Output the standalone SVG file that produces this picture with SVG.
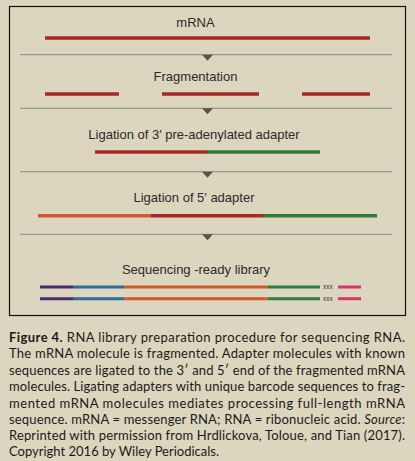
<svg xmlns="http://www.w3.org/2000/svg" width="415" height="461" viewBox="0 0 415 461">
<defs>
<style>
.lbl{font-family:"Liberation Sans",Arial,sans-serif;font-size:13px;fill:#2a2a2a;text-anchor:middle}
.seg{stroke-width:3.5;fill:none}
.lib{stroke-width:3;fill:none}
.red{stroke:#a52a26}
.grn{stroke:#2f7d3c}
.org{stroke:#d05a2c}
.pur{stroke:#4b2a6e}
.blu{stroke:#2f6b98}
.pnk{stroke:#d0386a}
.sep{stroke:#9d998a;stroke-width:1.3}
.tri{fill:#555550}
.xxx{font-family:"Liberation Sans",Arial,sans-serif;font-size:6.5px;fill:#333}
.cap{font-family:Lato,"Open Sans",sans-serif;font-size:13px;fill:#1a1a1a}
</style>
</defs>
<rect width="415" height="461" fill="#ddd6be"/>
<rect x="9.5" y="6.5" width="396" height="309" fill="#ddd6be" stroke="#111" stroke-width="1.2"/>

<g id="connectors">
<line class="sep" x1="20" y1="54.7" x2="392" y2="54.7"/>
<polygon class="tri" points="202,54.7 213,54.7 207.5,60.7"/>
<line class="sep" x1="20" y1="108.3" x2="392" y2="108.3"/>
<polygon class="tri" points="202,108.3 213,108.3 207.5,114.3"/>
<line class="sep" x1="20" y1="171.7" x2="392" y2="171.7"/>
<polygon class="tri" points="202,171.7 213,171.7 207.5,177.7"/>
<line class="sep" x1="20" y1="234.3" x2="392" y2="234.3"/>
<polygon class="tri" points="202,234.3 213,234.3 207.5,240.3"/>
</g>

<g id="mrna">
<text class="lbl" x="195.5" y="26.5">mRNA</text>
<line class="seg red" x1="45" y1="38" x2="370" y2="38"/>
</g>

<g id="fragmentation">
<text class="lbl" x="195.5" y="81">Fragmentation</text>
<line class="seg red" x1="45" y1="94" x2="119" y2="94"/>
<line class="seg red" x1="162" y1="94" x2="259" y2="94"/>
<line class="seg red" x1="302" y1="94" x2="370" y2="94"/>
</g>

<g id="ligation3">
<text class="lbl" x="194" y="138.5">Ligation of 3′ pre-adenylated adapter</text>
<line class="seg red" x1="95" y1="152" x2="207" y2="152"/>
<line class="seg grn" x1="207" y1="152" x2="320" y2="152"/>
</g>

<g id="ligation5">
<text class="lbl" x="194" y="202">Ligation of 5′ adapter</text>
<line class="seg org" x1="38" y1="215.7" x2="151" y2="215.7"/>
<line class="seg red" x1="151" y1="215.7" x2="263" y2="215.7"/>
<line class="seg grn" x1="263" y1="215.7" x2="377" y2="215.7"/>
</g>

<g id="library">
<text class="lbl" x="196" y="273.5">Sequencing -ready library</text>
<line class="lib pur" x1="40" y1="287" x2="73" y2="287"/>
<line class="lib blu" x1="73" y1="287" x2="124" y2="287"/>
<line class="lib org" x1="124" y1="287" x2="268" y2="287"/>
<line class="lib grn" x1="268" y1="287" x2="320" y2="287"/>
<text class="xxx" x="323" y="289.3">xxx</text>
<line class="lib pnk" x1="338" y1="287" x2="361" y2="287"/>
<line class="lib pur" x1="40" y1="298.7" x2="73" y2="298.7"/>
<line class="lib blu" x1="73" y1="298.7" x2="124" y2="298.7"/>
<line class="lib org" x1="124" y1="298.7" x2="268" y2="298.7"/>
<line class="lib grn" x1="268" y1="298.7" x2="320" y2="298.7"/>
<text class="xxx" x="323" y="301">xxx</text>
<line class="lib pnk" x1="338" y1="298.7" x2="361" y2="298.7"/>
</g>

<g id="caption">
<text class="cap" x="9" y="341.5" textLength="396" lengthAdjust="spacing"><tspan font-weight="bold">Figure 4.</tspan> RNA library preparation procedure for sequencing RNA.</text>
<text class="cap" x="9" y="358" textLength="396" lengthAdjust="spacing">The mRNA molecule is fragmented. Adapter molecules with known</text>
<text class="cap" x="9" y="374.5" textLength="396" lengthAdjust="spacing">sequences are ligated to the 3′ and 5′ end of the fragmented mRNA</text>
<text class="cap" x="9" y="391" textLength="396" lengthAdjust="spacing">molecules. Ligating adapters with unique barcode sequences to frag-</text>
<text class="cap" x="9" y="407.5" textLength="396" lengthAdjust="spacing">mented mRNA molecules mediates processing full-length mRNA</text>
<text class="cap" x="9" y="424" textLength="396" lengthAdjust="spacing">sequence. mRNA = messenger RNA; RNA = ribonucleic acid. <tspan font-style="italic">Source</tspan>:</text>
<text class="cap" x="9" y="440" textLength="396" lengthAdjust="spacing">Reprinted with permission from Hrdlickova, Toloue, and Tian (2017).</text>
<text class="cap" x="9" y="456">Copyright 2016 by Wiley Periodicals.</text>
</g>
</svg>
